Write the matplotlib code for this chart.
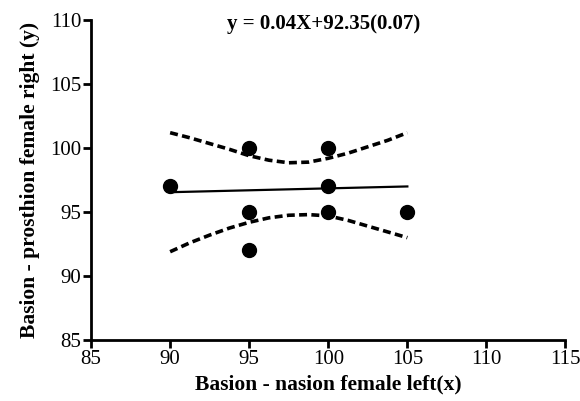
import matplotlib
matplotlib.use("Agg")
import matplotlib.pyplot as plt

# data
pts_x = [90, 95, 95, 95, 100, 100, 100, 105]
pts_y = [97, 100, 95, 92, 100, 97, 95, 95]
fit_x = [90, 105]
fit_y = [96.55, 97.0]
band_x = [90, 91.25, 92.5, 93.75, 95, 96.25, 97.5, 98.75, 100, 101.25, 102.5, 103.75, 105]
upper_y = [101.2, 100.8, 100.35, 99.9, 99.4, 99.05, 98.85, 98.9, 99.2, 99.6, 100.1, 100.6, 101.2]
lower_y = [91.9, 92.6, 93.2, 93.75, 94.2, 94.55, 94.75, 94.8, 94.7, 94.35, 93.9, 93.45, 93.0]
xticks = [85, 90, 95, 100, 105, 110, 115]
yticks = [85, 90, 95, 100, 105, 110]
title = "y = 0.04X+92.35(0.07)"

plt.rcParams['font.family'] = ['Liberation Serif', 'DejaVu Serif']
fig = plt.figure(figsize=(5.8, 4.01), dpi=100)
ax = fig.add_axes([0.157, 0.152, 0.818, 0.798])

ax.plot(band_x, upper_y, color='black', lw=2.6, linestyle=(0, (2.2, 1.2)))
ax.plot(band_x, lower_y, color='black', lw=2.6, linestyle=(0, (2.2, 1.2)))
ax.plot(fit_x, fit_y, color='black', lw=1.6)
ax.scatter(pts_x, pts_y, s=100, color='black', zorder=3)

ax.set_xlim(85, 115)
ax.set_ylim(85, 110)
ax.set_xticks(xticks)
ax.set_yticks(yticks)
ax.tick_params(axis='both', direction='out', length=6, width=2, labelsize=15, pad=1)
for s in ['top', 'right']:
    ax.spines[s].set_visible(False)
for s in ['left', 'bottom']:
    ax.spines[s].set_linewidth(2)
ax.set_xlabel("Basion - nasion female left(x)", fontsize=15.5, fontweight='bold', labelpad=4)
ax.set_ylabel("Basion - prosthion female right (y)", fontsize=15.5, fontweight='bold', labelpad=7)
ax.text(0.49, 1.02, title, transform=ax.transAxes, ha='center', va='top', fontsize=15, fontweight='bold')

fig.savefig("out.png", dpi=100)
